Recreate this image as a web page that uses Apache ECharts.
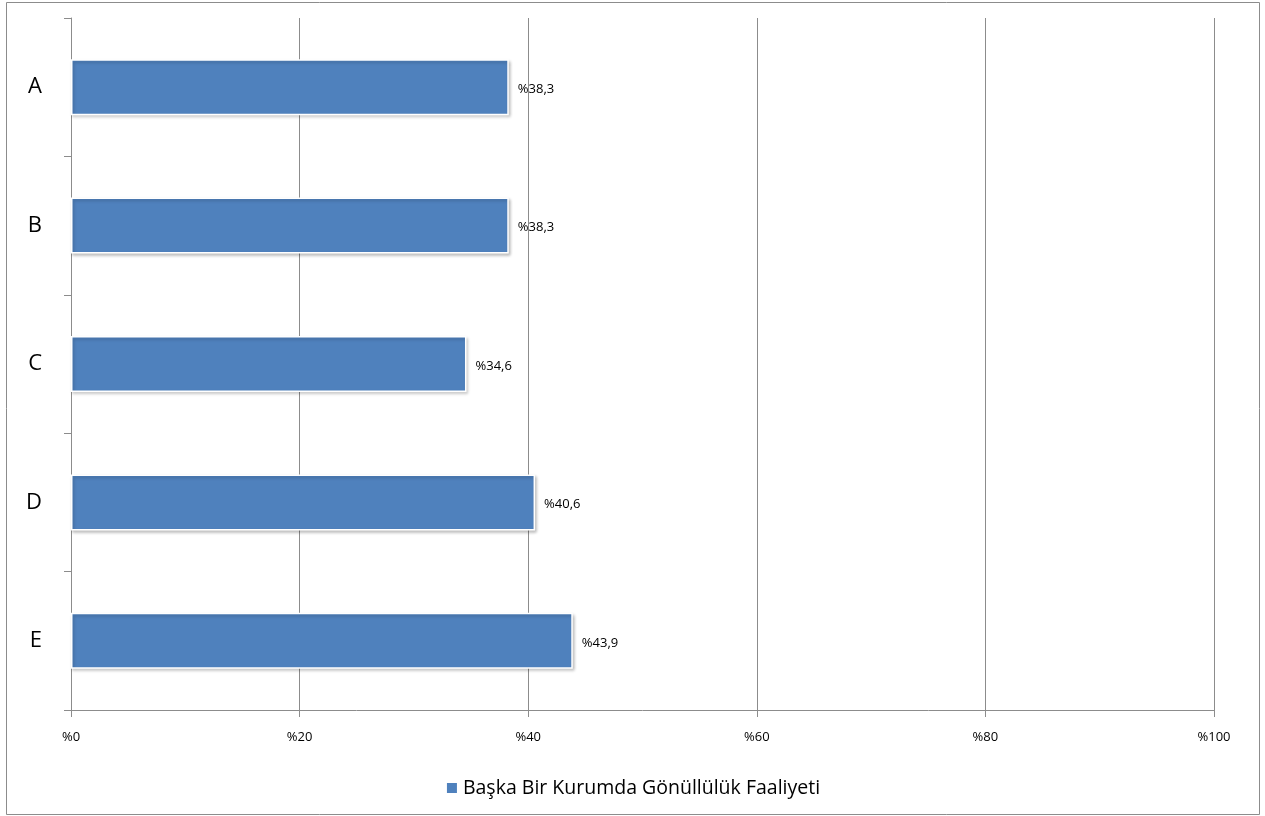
<!DOCTYPE html>
<html>
<head>
<meta charset="utf-8">
<script src="https://cdn.jsdelivr.net/npm/echarts@6/dist/echarts.min.js"></script>
<style>
html,body{margin:0;padding:0;background:#fff;}
#main{width:1265px;height:816px;}
</style>
</head>
<body>
<div id="main"></div>
<script>
const categories = ['A', 'B', 'C', 'D', 'E'];
const seriesName = 'Başka Bir Kurumda Gönüllülük Faaliyeti';
const values = [38.3, 38.3, 34.6, 40.6, 43.9];
const xTicks = [0, 20, 40, 60, 80, 100];

const chart = echarts.init(document.getElementById('main'));
const font = 'Open Sans, Liberation Sans, sans-serif';
chart.setOption({
  animation: false,
  backgroundColor: '#fff',
  graphic: [{
    type: 'rect',
    shape: { x: 6.5, y: 2.5, width: 1253, height: 812 },
    style: { fill: 'none', stroke: '#8c8c8c', lineWidth: 1 },
    silent: true
  }],
  grid: { left: 71, right: 51, top: 18, bottom: 106, containLabel: false },
  legend: {
    data: [seriesName],
    bottom: 13,
    left: 'center',
    itemWidth: 12,
    itemHeight: 12,
    icon: 'rect',
    itemGap: 6,
    textStyle: { fontSize: 19.5, color: '#000', fontFamily: font }
  },
  xAxis: {
    type: 'value',
    min: 0,
    max: 100,
    interval: 20,
    axisLine: { show: true, lineStyle: { color: '#8c8c8c', width: 1 } },
    axisTick: { show: true, length: 7, lineStyle: { color: '#8c8c8c' } },
    splitLine: { show: true, lineStyle: { color: '#8c8c8c', width: 1 } },
    axisLabel: {
      margin: 21,
      fontSize: 13,
      color: '#000',
      fontFamily: font,
      formatter: v => xTicks.includes(v) ? '%' + v : ''
    }
  },
  yAxis: {
    type: 'category',
    data: categories,
    inverse: true,
    axisLine: { show: true, lineStyle: { color: '#8c8c8c', width: 1 } },
    axisTick: { show: true, length: 7, lineStyle: { color: '#8c8c8c' } },
    splitLine: { show: false },
    axisLabel: { margin: 29, fontSize: 22, color: '#000', fontFamily: font }
  },
  series: [{
    name: seriesName,
    type: 'bar',
    data: values,
    barWidth: 56,
    itemStyle: {
      color: '#4f81bd',
      borderColor: '#ffffff',
      borderWidth: 1.5,
      shadowColor: 'rgba(0,0,0,0.22)',
      shadowBlur: 3,
      shadowOffsetX: 1.5,
      shadowOffsetY: 2
    },
    label: {
      show: true,
      position: 'right',
      distance: 9,
      fontSize: 13,
      color: '#000',
      fontFamily: font,
      offset: [0, 2],
      formatter: p => '%' + String(p.value).replace('.', ',')
    }
  }]
});
</script>
</body>
</html>
